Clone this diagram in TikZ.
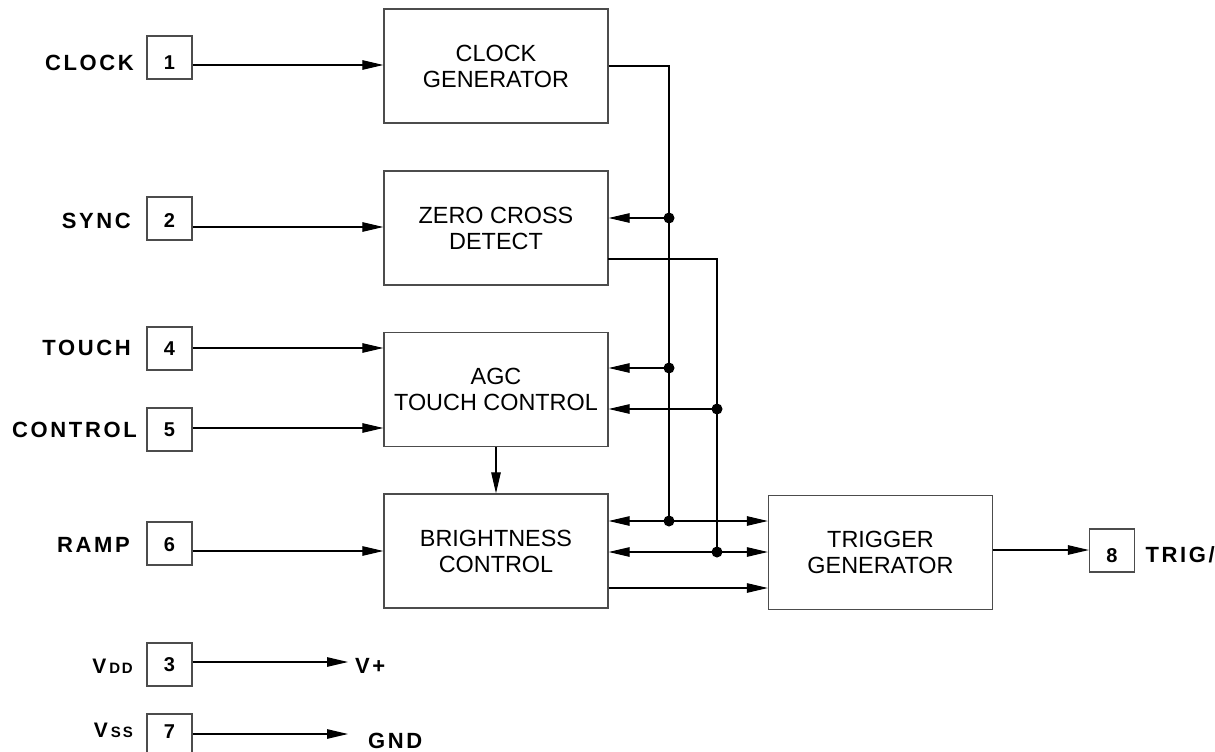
\documentclass[tikz,border=0pt]{standalone}
\usepackage{fontspec}
\setmainfont{Liberation Sans}
\newfontfamily\lblfont[LetterSpace=12]{Liberation Sans}
\usetikzlibrary{arrows.meta,calc}
\tikzset{
  blk/.style={draw=black!70, line width=1.3pt, minimum width=224pt, minimum height=114pt,
    inner sep=0pt, align=center, font=\fontsize{23.4}{26}\selectfont},
  pinbox/.style={draw=black!70, line width=1.2pt, minimum width=45pt, minimum height=43pt, inner sep=0pt},
  num/.style={font=\bfseries\fontsize{20}{22}\selectfont, inner sep=0pt},
  lab/.style={font=\lblfont\bfseries\fontsize{22}{24}\selectfont, inner sep=0pt},
  wire/.style={line width=1.1pt},
  arr/.style={wire, -{Triangle[length=21pt 0, width=9.5pt 0]}},
  jdot/.style={circle, fill, inner sep=0pt, minimum size=11pt},
}
\begin{document}
\begin{tikzpicture}[x=1pt, y=-1pt]
\useasboundingbox (0,0) rectangle (1215,752);

% main blocks
\node[blk] (clk) at (496,66) {CLOCK\\GENERATOR};
\node[blk] (zcd) at (496,228) {ZERO CROSS\\DETECT};
\node[blk] (agc) at (496,389.5) {AGC\\TOUCH CONTROL};
\node[blk] (bri) at (496,551) {BRIGHTNESS\\CONTROL};
\node[blk] (trg) at (880.5,552.5) {TRIGGER\\GENERATOR};

% pin boxes
\node[pinbox] (p1) at (169.5,57.5) {};
\node[num] (n1) at (169.5,63) {1};
\node[pinbox] (p2) at (169.5,218.5) {};
\node[num] (n2) at (169.5,221) {2};
\node[pinbox] (p4) at (169.5,348.5) {};
\node[num] (n4) at (169.5,349) {4};
\node[pinbox] (p5) at (169.5,429.5) {};
\node[num] (n5) at (169.5,430) {5};
\node[pinbox] (p6) at (169.5,543.5) {};
\node[num] (n6) at (169.5,545) {6};
\node[pinbox] (p3) at (169.5,664.5) {};
\node[num] (n3) at (169.5,665) {3};
\node[pinbox] (p7) at (169.5,735.5) {};
\node[num] (n7) at (169.5,732) {7};
\node[pinbox] (p8) at (1112,550.5) {};
\node[num] (n8) at (1112,556) {8};

% pin labels
\node[lab, anchor=east] (l1) at (134,63) {CLOCK};
\node[lab, anchor=east] (l2) at (131,221) {SYNC};
\node[lab, anchor=east] (l4) at (131,348) {TOUCH};
\node[lab, anchor=east] (l5) at (137,430) {CONTROL};
\node[lab, anchor=east] (l6) at (130,545) {RAMP};
\node[inner sep=0pt, anchor=base east, font=\lblfont\bfseries] (l3) at (133,673)
  {{\fontsize{21}{22}\selectfont V}\hspace{3pt}{\fontsize{15}{16}\selectfont DD}};
\node[inner sep=0pt, anchor=base east, font=\lblfont\bfseries] (l7) at (133,737)
  {{\fontsize{21}{22}\selectfont V}\hspace{3pt}{\fontsize{15}{16}\selectfont SS}};
\node[lab, anchor=east] (l8) at (1215,555) {TRIG/};
\node[lab, anchor=west] (vp) at (355,666) {V+};
\node[lab, anchor=west] (gn) at (368,741) {GND};

\coordinate (vpe) at (348,662);
\coordinate (gne) at (348,734);

% inputs
\draw[arr] (p1.east |- 0,65) -- (clk.west |- 0,65);
\draw[arr] (p2.east |- 0,227) -- (zcd.west |- 0,227);
\draw[arr] (p4.east |- 0,348) -- (agc.west |- 0,348);
\draw[arr] (p5.east |- 0,428) -- (agc.west |- 0,428);
\draw[arr] (p6.east |- 0,551) -- (bri.west |- 0,551);
\draw[arr] (p3.east |- vpe) -- (vpe);
\draw[arr] (p7.east |- gne) -- (gne);

% internal
\coordinate (c0) at (669,66);
\coordinate (j1) at (669,218);
\coordinate (j2) at (669,368);
\coordinate (j3) at (669,521);
\coordinate (z0) at (608,259);
\coordinate (z1) at (717,259);
\coordinate (j4) at (717,409);
\coordinate (j5) at (717,552);

\draw[wire] (clk.east |- c0) -- (c0) -- (j3);
\draw[wire] (z0) -- (z1) -- (j5);
\draw[arr] (j1) -- (zcd.east |- j1);
\draw[arr] (j2) -- (agc.east |- j2);
\draw[arr] (j4) -- (agc.east |- j4);
\draw[arr] (j3) -- (bri.east |- j3);
\draw[arr] (j3) -- (trg.west |- j3);
\draw[arr] (j5) -- (bri.east |- j5);
\draw[arr] (j5) -- (trg.west |- j5);
\draw[arr] (bri.east |- 0,588) -- (trg.west |- 0,588);
\draw[arr] (agc.south) -- (bri.north);
\draw[arr] (trg.east |- 0,550) -- (p8.west |- 0,550);

\foreach \j in {j1,j2,j3,j4,j5} \node[jdot] at (\j) {};
\end{tikzpicture}
\end{document}
